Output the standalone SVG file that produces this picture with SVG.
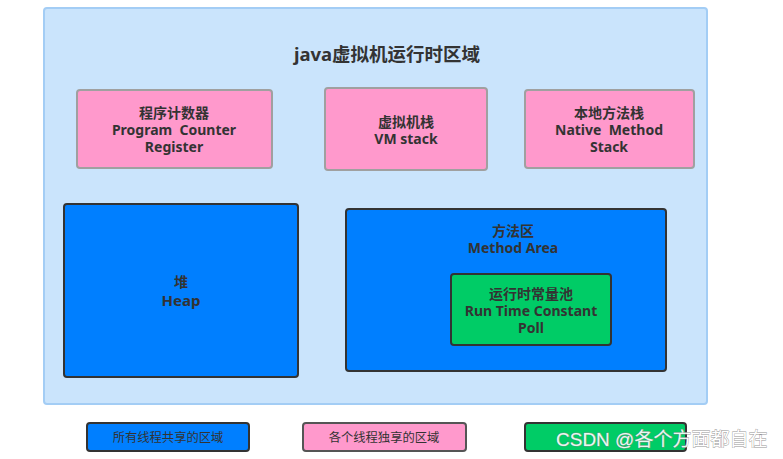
<svg xmlns="http://www.w3.org/2000/svg" width="783" height="459" viewBox="0 0 783 459">
<style>
.t{font-family:"Noto Sans","Noto Sans CJK SC",sans-serif;font-weight:bold;font-size:14px;fill:#333;text-anchor:middle;white-space:pre}
.l{font-family:"Noto Sans","Noto Sans CJK SC",sans-serif;font-size:12.3px;fill:#333;text-anchor:middle}
.pink{fill:#ff99cc;stroke:#a0a0a0;stroke-width:2}
.blue{fill:#007fff;stroke:#333;stroke-width:2}
.green{fill:#00cc66;stroke:#333;stroke-width:2}
</style>
<rect width="783" height="459" fill="#fff"/>
<g id="runtime-area">
<rect x="44" y="8" width="663" height="396" rx="3" fill="#cae4fc" stroke="#a3cdf5" stroke-width="2"/>
<text x="387" y="61" class="t" style="font-size:18.5px">java虚拟机运行时区域</text>
</g>
<g id="pc">
<rect x="77" y="90" width="195" height="78" rx="3" class="pink"/>
<text x="174" y="118" class="t">程序计数器</text>
<text x="174" y="135" class="t" xml:space="preserve">Program  Counter</text>
<text x="174" y="152" class="t">Register</text>
</g>
<g id="vmstack">
<rect x="325" y="88" width="162" height="82" rx="3" class="pink"/>
<text x="406" y="127" class="t">虚拟机栈</text>
<text x="406" y="144" class="t">VM stack</text>
</g>
<g id="native">
<rect x="525" y="90" width="169" height="78" rx="3" class="pink"/>
<text x="609" y="118" class="t">本地方法栈</text>
<text x="609" y="135" class="t" xml:space="preserve">Native  Method</text>
<text x="609" y="152" class="t">Stack</text>
</g>
<g id="heap">
<rect x="64" y="204" width="234" height="173" rx="3" class="blue"/>
<text x="181" y="287" class="t">堆</text>
<text x="181" y="306" class="t" style="font-size:15px">Heap</text>
</g>
<g id="method">
<rect x="346" y="209" width="320" height="162" rx="3" class="blue"/>
<text x="513" y="236" class="t">方法区</text>
<text x="513" y="253" class="t">Method Area</text>
</g>
<g id="pool">
<rect x="451" y="274" width="160" height="71" rx="3" class="green"/>
<text x="531" y="299" class="t">运行时常量池</text>
<text x="531" y="316" class="t">Run Time Constant</text>
<text x="531" y="333" class="t">Poll</text>
</g>
<g id="legend-shared">
<rect x="87" y="423" width="162" height="28" rx="3" class="blue"/>
<text x="168" y="442" class="l">所有线程共享的区域</text>
</g>
<g id="legend-private">
<rect x="303" y="423" width="163" height="28" rx="3" class="pink" style="stroke:#555"/>
<text x="384" y="442" class="l">各个线程独享的区域</text>
</g>
<g id="legend-green">
<rect x="525" y="423" width="161" height="28" rx="3" class="green"/>
</g>
<g id="connectors"></g>
<text x="556" y="446" font-family="'Liberation Sans','Noto Sans CJK SC',sans-serif" font-size="19" fill="#fff" stroke="#8a8a8a" stroke-width="0.8" paint-order="stroke" opacity="0.9">CSDN @各个方面都自在</text>
</svg>
